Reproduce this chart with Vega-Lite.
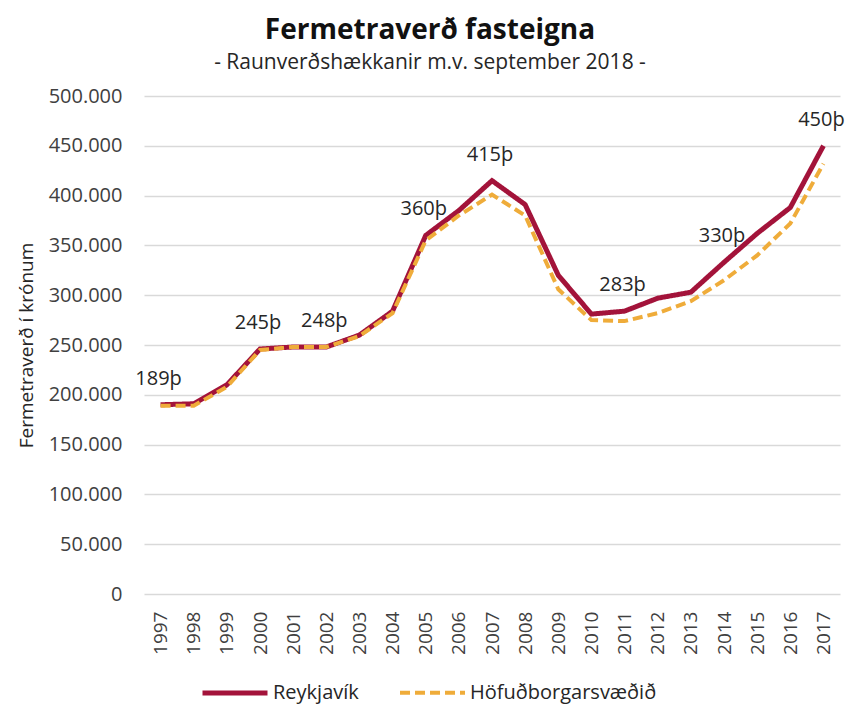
{
  "$schema": "https://vega.github.io/schema/vega-lite/v6.json",
  "width": 696,
  "height": 498,
  "autosize": "none",
  "padding": {"left": 144, "top": 96, "right": 12, "bottom": 113},
  "background": "white",
  "config": {
    "font": "Open Sans",
    "locale": {"number": {"decimal": ",", "thousands": ".", "grouping": [3], "currency": ["", ""]}},
    "view": {"stroke": null},
    "axis": {"labelColor": "#404040", "titleColor": "#262626", "labelFont": "Open Sans", "titleFont": "Open Sans"}
  },
  "title": {
    "text": "Fermetraverð fasteigna",
    "subtitle": "- Raunverðshækkanir m.v. september 2018 -",
    "fontSize": 28,
    "fontWeight": "bold",
    "color": "#111111",
    "subtitleFontSize": 21,
    "subtitleColor": "#262626",
    "subtitlePadding": 7,
    "anchor": "middle",
    "dx": -62,
    "offset": 13
  },
  "data": {
    "values": [
      {"year": "1997", "series": "Reykjavík", "value": 190000, "label": "189þ"},
      {"year": "1998", "series": "Reykjavík", "value": 191000},
      {"year": "1999", "series": "Reykjavík", "value": 210000},
      {"year": "2000", "series": "Reykjavík", "value": 246000, "label": "245þ"},
      {"year": "2001", "series": "Reykjavík", "value": 248000},
      {"year": "2002", "series": "Reykjavík", "value": 248000, "label": "248þ"},
      {"year": "2003", "series": "Reykjavík", "value": 260000},
      {"year": "2004", "series": "Reykjavík", "value": 284000},
      {"year": "2005", "series": "Reykjavík", "value": 360000, "label": "360þ"},
      {"year": "2006", "series": "Reykjavík", "value": 385000},
      {"year": "2007", "series": "Reykjavík", "value": 415000, "label": "415þ"},
      {"year": "2008", "series": "Reykjavík", "value": 391000},
      {"year": "2009", "series": "Reykjavík", "value": 320000},
      {"year": "2010", "series": "Reykjavík", "value": 281000},
      {"year": "2011", "series": "Reykjavík", "value": 284000, "label": "283þ"},
      {"year": "2012", "series": "Reykjavík", "value": 297000},
      {"year": "2013", "series": "Reykjavík", "value": 303000},
      {"year": "2014", "series": "Reykjavík", "value": 333000, "label": "330þ"},
      {"year": "2015", "series": "Reykjavík", "value": 362000},
      {"year": "2016", "series": "Reykjavík", "value": 388000},
      {"year": "2017", "series": "Reykjavík", "value": 450000, "label": "450þ"},
      {"year": "1997", "series": "Höfuðborgarsvæðið", "value": 189000},
      {"year": "1998", "series": "Höfuðborgarsvæðið", "value": 189000},
      {"year": "1999", "series": "Höfuðborgarsvæðið", "value": 208000},
      {"year": "2000", "series": "Höfuðborgarsvæðið", "value": 245000},
      {"year": "2001", "series": "Höfuðborgarsvæðið", "value": 248000},
      {"year": "2002", "series": "Höfuðborgarsvæðið", "value": 248000},
      {"year": "2003", "series": "Höfuðborgarsvæðið", "value": 259000},
      {"year": "2004", "series": "Höfuðborgarsvæðið", "value": 282000},
      {"year": "2005", "series": "Höfuðborgarsvæðið", "value": 355000},
      {"year": "2006", "series": "Höfuðborgarsvæðið", "value": 380000},
      {"year": "2007", "series": "Höfuðborgarsvæðið", "value": 401000},
      {"year": "2008", "series": "Höfuðborgarsvæðið", "value": 380000},
      {"year": "2009", "series": "Höfuðborgarsvæðið", "value": 306000},
      {"year": "2010", "series": "Höfuðborgarsvæðið", "value": 275000},
      {"year": "2011", "series": "Höfuðborgarsvæðið", "value": 274000},
      {"year": "2012", "series": "Höfuðborgarsvæðið", "value": 282000},
      {"year": "2013", "series": "Höfuðborgarsvæðið", "value": 294000},
      {"year": "2014", "series": "Höfuðborgarsvæðið", "value": 315000},
      {"year": "2015", "series": "Höfuðborgarsvæðið", "value": 340000},
      {"year": "2016", "series": "Höfuðborgarsvæðið", "value": 372000},
      {"year": "2017", "series": "Höfuðborgarsvæðið", "value": 432000}
    ]
  },
  "encoding": {
    "x": {
      "field": "year",
      "type": "ordinal",
      "title": null,
      "scale": {"type": "point", "padding": 0.5},
      "axis": {
        "labelAngle": -90,
        "labelFontSize": 19,
        "labelPadding": 17,
        "ticks": false,
        "domain": false,
        "grid": false
      }
    },
    "y": {
      "field": "value",
      "type": "quantitative",
      "scale": {"domain": [0, 500000], "nice": false},
      "title": "Fermetraverð í krónum",
      "axis": {
        "values": [0, 50000, 100000, 150000, 200000, 250000, 300000, 350000, 400000, 450000, 500000],
        "format": ",.0f",
        "labelFontSize": 20,
        "labelPadding": 22,
        "ticks": false,
        "domain": false,
        "grid": true,
        "gridColor": "#d9d9d9",
        "gridWidth": 1.5,
        "titleFontSize": 19,
        "titleFontWeight": "normal",
        "titlePadding": 12
      }
    }
  },
  "layer": [
    {
      "mark": {"type": "line", "strokeCap": "butt", "strokeJoin": "miter"},
      "encoding": {
        "color": {
          "field": "series",
          "type": "nominal",
          "scale": {"domain": ["Reykjavík", "Höfuðborgarsvæðið"], "range": ["#a3133a", "#efac3a"]},
          "legend": {
            "title": null,
            "orient": "none",
            "legendX": 56,
            "legendY": 562,
            "direction": "horizontal",
            "symbolType": "stroke",
            "symbolSize": 4225,
            "symbolStrokeWidth": 5,
            "labelFontSize": 20,
            "labelLimit": 400,
            "labelColor": "#262626",
            "labelOffset": 3,
            "columnPadding": 33
          }
        },
        "strokeDash": {
          "field": "series",
          "type": "nominal",
          "scale": {"domain": ["Reykjavík", "Höfuðborgarsvæðið"], "range": [[1, 0], [10, 5]]},
          "legend": null
        },
        "strokeWidth": {
          "field": "series",
          "type": "nominal",
          "scale": {"domain": ["Reykjavík", "Höfuðborgarsvæðið"], "range": [5, 4]},
          "legend": null
        }
      }
    },
    {
      "transform": [{"filter": "isValid(datum.label)"}],
      "mark": {"type": "text", "fontSize": 20, "color": "#262626", "baseline": "alphabetic", "dy": -20, "dx": -2},
      "encoding": {"text": {"field": "label"}}
    }
  ]
}
